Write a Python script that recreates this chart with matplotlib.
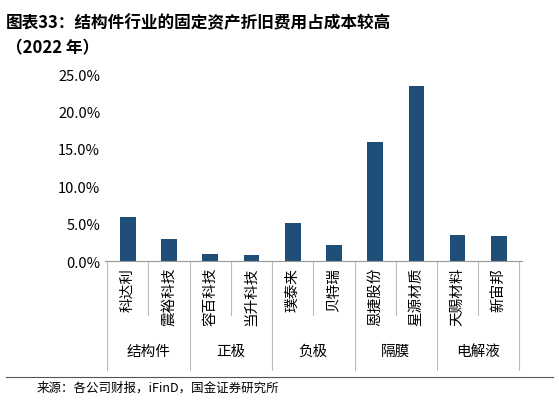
import matplotlib.pyplot as plt
import matplotlib.transforms as mtransforms

plt.rcParams['font.family'] = ['Noto Sans CJK SC', 'DejaVu Sans']

companies = ["科达利", "震裕科技", "容百科技", "当升科技", "璞泰来", "贝特瑞",
             "恩捷股份", "星源材质", "天赐材料", "新宙邦"]
values = [5.9, 2.9, 1.0, 0.8, 5.1, 2.2, 15.9, 23.4, 3.5, 3.3]
groups = ["结构件", "正极", "负极", "隔膜", "电解液"]
yticks = [0, 5, 10, 15, 20, 25]

fig = plt.figure(figsize=(5.59, 4.02), dpi=100)
ax = fig.add_axes([0.188, 0.348, 0.745, 0.465])
x = list(range(len(companies)))
ax.bar(x, values, width=0.38, color="#1F4E79")
ax.set_xlim(-0.55, 9.55)
ax.set_ylim(0, 25)
ax.set_yticks(yticks)
ax.set_yticklabels([f"{v:.1f}%" for v in yticks], fontsize=10.5)
ax.set_xticks([])
for s in ["top", "right", "left"]:
    ax.spines[s].set_visible(False)
ax.spines["bottom"].set_color("#999999")
ax.tick_params(axis="y", length=0)

trans = mtransforms.blended_transform_factory(ax.transData, ax.transAxes)
for i, name in enumerate(companies):
    ax.text(i, -0.03, name, rotation=90, ha="center", va="top", fontsize=10.5,
            transform=trans)
# separators
for b in [k + 0.5 for k in range(-1, 10)]:
    bottom = -0.58 if (b + 0.5) % 2 == 0 else -0.29
    ax.plot([b, b], [0, bottom], color="#bbbbbb", lw=0.8, transform=trans, clip_on=False)
for j, g in enumerate(groups):
    ax.text(2 * j + 0.5, -0.48, g, ha="center", va="center", fontsize=10.5, transform=trans)

fig.text(0.01, 0.965, "图表33：结构件行业的固定资产折旧费用占成本较高\n（2022 年）",
         ha="left", va="top", fontsize=12, fontweight="bold", style="italic",
         linespacing=1.5)
fig.add_artist(plt.Line2D([0.01, 0.99], [0.06, 0.06], color="#555555", lw=0.8))
fig.text(0.065, 0.035, "来源：各公司财报，iFinD，国金证券研究所", ha="left", va="center", fontsize=9)

fig.savefig("out.png", dpi=100)
